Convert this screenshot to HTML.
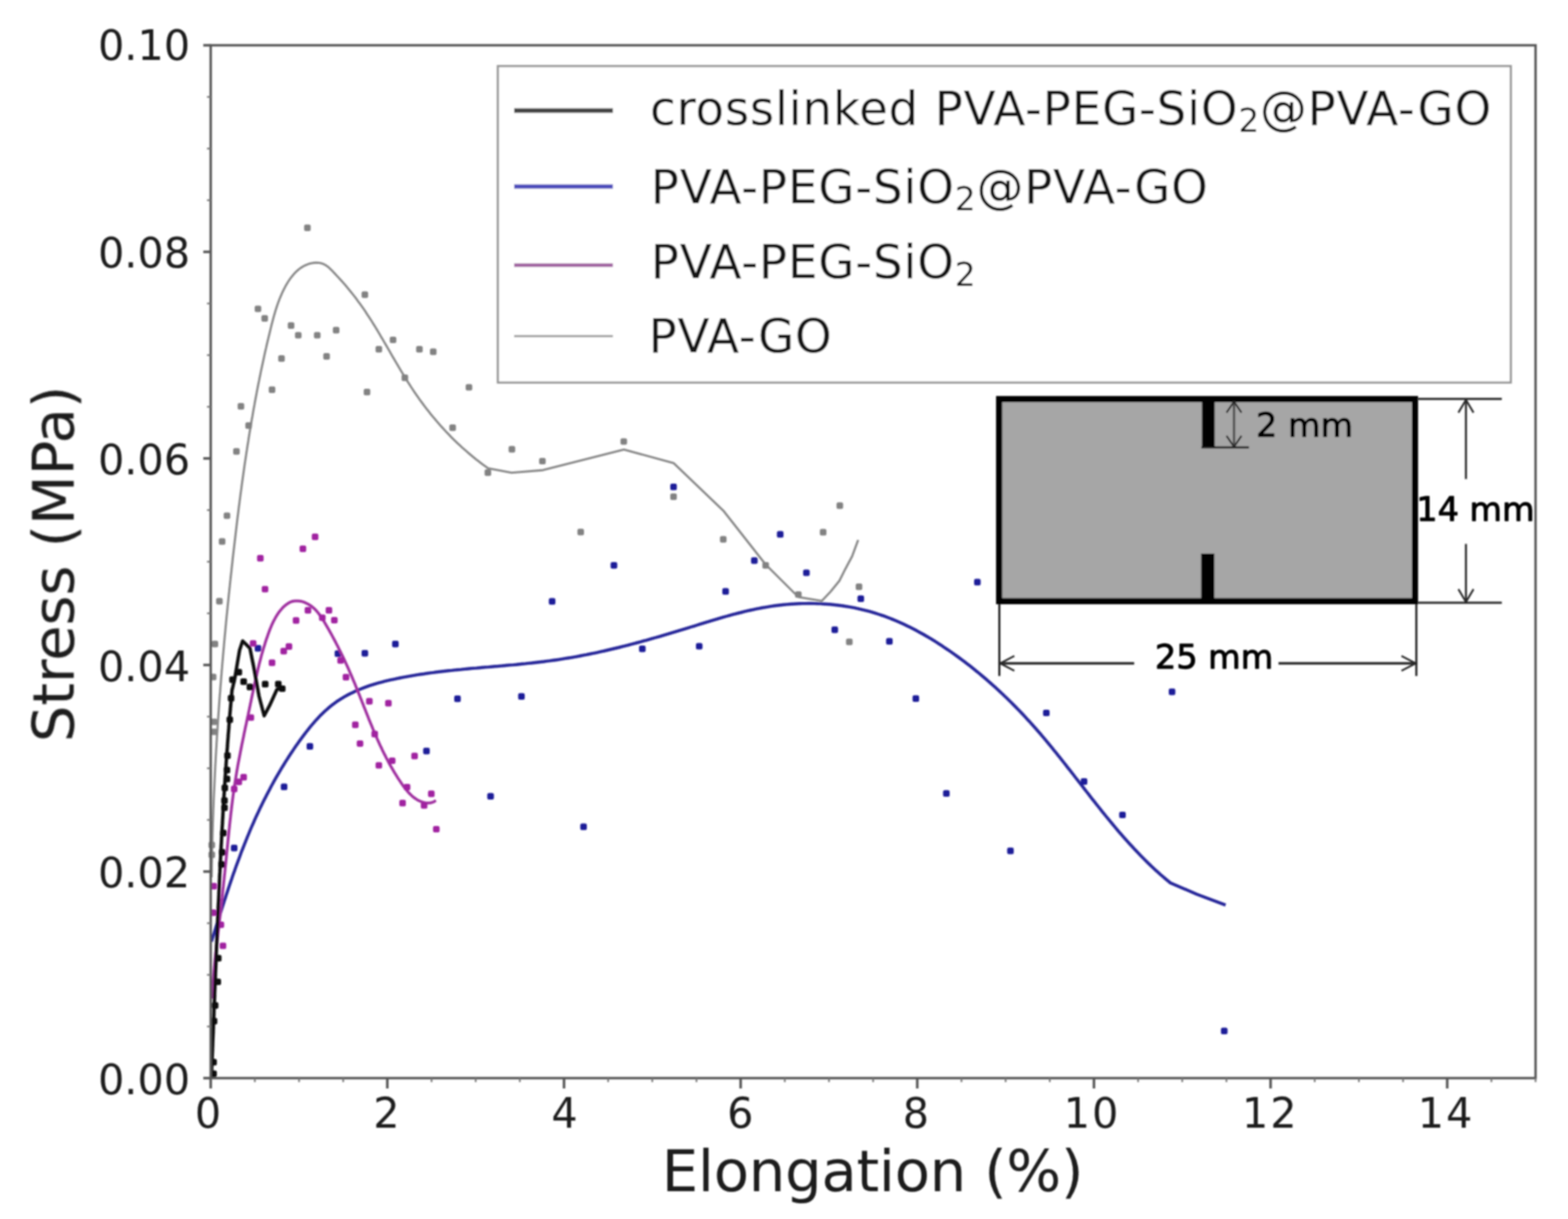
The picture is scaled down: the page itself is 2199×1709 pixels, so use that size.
<!DOCTYPE html>
<html lang="en"><head><meta charset="utf-8"><title>Stress vs Elongation</title>
<style>
html,body{margin:0;padding:0;background:#fff;}
body{width:2199px;height:1709px;overflow:hidden;}
svg{display:block;}
text{font-family:"DejaVu Sans", "Liberation Sans", sans-serif;}
</style></head><body>
<svg width="2199" height="1709" viewBox="0 0 2199 1709" role="img" aria-label="Stress versus elongation chart">
<defs><filter id="soft" x="-2%" y="-2%" width="104%" height="104%"><feGaussianBlur stdDeviation="1.0"/></filter></defs>
<rect x="0" y="0" width="2199" height="1709" fill="#ffffff"/>
<g filter="url(#soft)">
<g id="series" fill="none" stroke-linecap="butt" stroke-linejoin="round">
<g class="gray">
<path d="M296.8,1230.1 L296.8,1225.8 L296.9,1221.5 L296.9,1217.3 L297.0,1213.0 L297.1,1208.7 L297.2,1204.4 L297.3,1200.1 L297.4,1195.9 L297.4,1191.6 L297.5,1187.3 L297.7,1183.0 L297.8,1178.8 L297.9,1174.5 L298.0,1170.2 L298.1,1165.9 L298.3,1161.7 L298.4,1157.4 L298.5,1153.1 L298.7,1148.8 L298.8,1144.6 L299.0,1140.3 L299.1,1136.0 L299.3,1131.8 L299.5,1127.5 L299.6,1123.2 L299.8,1119.0 L300.0,1114.7 L300.2,1110.4 L300.4,1106.2 L300.6,1101.9 L300.8,1097.6 L301.0,1093.4 L301.2,1089.1 L301.4,1084.8 L301.6,1080.6 L301.8,1076.3 L302.0,1072.1 L302.3,1067.8 L302.5,1063.5 L302.7,1059.3 L303.0,1055.0 L303.2,1050.8 L303.5,1046.5 L303.7,1042.2 L304.0,1038.0 L304.2,1033.7 L304.5,1029.5 L304.8,1025.2 L305.1,1020.9 L305.3,1016.7 L305.6,1012.4 L305.9,1008.2 L306.2,1003.9 L306.5,999.7 L306.8,995.4 L307.1,991.2 L307.4,986.9 L307.7,982.7 L308.0,978.4 L308.3,974.1 L308.7,969.9 L309.0,965.6 L309.3,961.4 L309.7,957.1 L310.0,952.9 L310.3,948.6 L310.7,944.4 L311.0,940.1 L311.4,935.9 L311.7,931.6 L312.1,927.4 L312.5,923.1 L312.8,918.9 L313.2,914.6 L313.6,910.4 L314.0,906.1 L314.3,901.9 L314.7,897.6 L315.1,893.4 L315.5,889.1 L315.9,884.9 L316.3,880.6 L316.7,876.4 L317.1,872.1 L317.5,867.9 L317.9,863.7 L318.4,859.4 L318.8,855.2 L319.2,850.9 L319.6,846.7 L320.1,842.4 L320.5,838.2 L320.9,833.9 L321.4,829.7 L321.8,825.4 L322.3,821.2 L322.7,816.9 L323.2,812.7 L323.6,808.5 L324.1,804.2 L324.6,800.0 L325.0,795.7 L325.5,791.5 L326.0,787.2 L326.4,783.0 L326.9,778.7 L327.4,774.5 L327.9,770.2 L328.4,766.0 L328.9,761.8 L329.4,757.5 L329.9,753.3 L330.4,749.0 L330.9,744.8 L331.4,740.5 L331.9,736.3 L332.4,732.0 L332.9,727.8 L333.4,723.6 L334.0,719.3 L334.5,715.1 L335.0,710.8 L335.6,706.6 L336.1,702.4 L336.7,698.1 L337.2,693.9 L337.8,689.6 L338.4,685.4 L338.9,681.2 L339.5,676.9 L340.1,672.7 L340.7,668.5 L341.3,664.2 L341.9,660.0 L342.5,655.8 L343.1,651.5 L343.7,647.3 L344.4,643.1 L345.0,638.9 L345.6,634.6 L346.3,630.4 L346.9,626.2 L347.6,622.0 L348.3,617.8 L348.9,613.5 L349.6,609.3 L350.3,605.1 L351.0,600.9 L351.7,596.7 L352.4,592.5 L353.1,588.3 L353.9,584.1 L354.6,579.9 L355.3,575.7 L356.1,571.5 L356.9,567.3 L357.6,563.1 L358.4,558.9 L359.2,554.7 L360.0,550.5 L360.8,546.3 L361.6,542.1 L362.4,538.0 L363.3,533.8 L364.1,529.6 L365.0,525.4 L365.8,521.3 L366.7,517.1 L367.6,512.9 L368.5,508.8 L369.4,504.6 L370.3,500.5 L371.2,496.3 L372.1,492.1 L373.1,488.0 L374.0,483.9 L375.0,479.7 L376.0,475.6 L377.0,471.4 L378.0,467.3 L379.0,463.2 L380.0,459.0 L381.0,454.9 L382.1,450.8 L383.2,446.7 L384.3,442.6 L385.5,438.5 L386.7,434.4 L388.0,430.4 L389.4,426.3 L390.9,422.3 L392.4,418.3 L394.1,414.4 L395.8,410.4 L397.7,406.5 L399.7,402.6 L401.8,398.8 L404.1,395.0 L406.5,391.4 L409.1,387.9 L411.9,384.5 L414.8,381.4 L418.0,378.5 L421.3,375.9 L424.9,373.6 L428.7,371.7 L432.7,370.1 L436.9,369.0 L441.1,368.4 L445.3,368.3 L449.3,368.8 L453.2,369.9 L456.8,371.8 L460.2,374.2 L463.3,377.1 L466.4,380.2 L469.4,383.4 L472.3,386.5 L475.3,389.7 L478.2,392.9 L481.0,396.1 L483.9,399.3 L486.6,402.6 L489.4,405.9 L492.1,409.2 L494.8,412.6 L497.4,415.9 L500.0,419.3 L502.5,422.8 L505.0,426.2 L507.5,429.7 L510.0,433.2 L512.4,436.7 L514.7,440.3 L517.1,443.8 L519.4,447.4 L521.7,451.0 L523.9,454.6 L526.2,458.2 L528.4,461.9 L530.6,465.5 L532.8,469.2 L534.9,472.9 L537.1,476.5 L539.2,480.2 L541.4,483.9 L543.5,487.6 L545.7,491.3 L547.8,495.0 L549.9,498.7 L552.1,502.4 L554.2,506.1 L556.4,509.8 L558.6,513.4 L560.7,517.1 L562.9,520.8 L565.1,524.4 L567.4,528.1 L569.6,531.7 L571.9,535.3 L574.2,538.9 L576.5,542.5 L578.8,546.0 L581.2,549.6 L583.6,553.1 L586.1,556.6 L588.5,560.1 L591.0,563.5 L593.6,567.0 L596.1,570.4 L598.7,573.8 L601.4,577.1 L604.0,580.5 L606.7,583.8 L609.5,587.0 L612.2,590.3 L615.0,593.5 L617.8,596.7 L620.7,599.9 L623.6,603.0 L626.5,606.2 L629.4,609.2 L632.4,612.3 L635.4,615.3 L638.5,618.3 L641.6,621.3 L644.7,624.2 L647.8,627.1 L651.0,629.9 L654.2,632.7 L657.4,635.5 L660.7,638.3 L664.0,641.0 L667.3,643.7 L670.7,646.3 L674.1,648.9 L677.5,651.5 L681.0,654.0 L684.5,656.5 L684.5,656.4 L717.5,662.8 L761.5,659.1 L875.0,630.2 L875.0,630.2 L944.6,649.2 L1014.3,715.8 L1073.8,791.5 L1119.6,837.0 L1152.5,842.5 L1164.8,829.5 L1177.2,814.3 L1185.4,797.9 L1195.0,780.0 L1203.5,757.0" stroke="#888888" stroke-width="3.1" fill="none"/>
<rect x="426.5" y="314.8" width="9.2" height="9.2" rx="2.5" fill="#828282" stroke="none"/>
<rect x="507.1" y="408.5" width="9.2" height="9.2" rx="2.5" fill="#828282" stroke="none"/>
<rect x="357.2" y="428.4" width="9.2" height="9.2" rx="2.5" fill="#828282" stroke="none"/>
<rect x="366.6" y="441.7" width="9.2" height="9.2" rx="2.5" fill="#828282" stroke="none"/>
<rect x="403.6" y="451.8" width="9.2" height="9.2" rx="2.5" fill="#828282" stroke="none"/>
<rect x="413.7" y="465.4" width="9.2" height="9.2" rx="2.5" fill="#828282" stroke="none"/>
<rect x="440.3" y="465.4" width="9.2" height="9.2" rx="2.5" fill="#828282" stroke="none"/>
<rect x="466.8" y="458.3" width="9.2" height="9.2" rx="2.5" fill="#828282" stroke="none"/>
<rect x="546.6" y="471.9" width="9.2" height="9.2" rx="2.5" fill="#828282" stroke="none"/>
<rect x="526.7" y="485.0" width="9.2" height="9.2" rx="2.5" fill="#828282" stroke="none"/>
<rect x="583.6" y="485.0" width="9.2" height="9.2" rx="2.5" fill="#828282" stroke="none"/>
<rect x="603.0" y="488.6" width="9.2" height="9.2" rx="2.5" fill="#828282" stroke="none"/>
<rect x="453.4" y="495.1" width="9.2" height="9.2" rx="2.5" fill="#828282" stroke="none"/>
<rect x="390.2" y="498.1" width="9.2" height="9.2" rx="2.5" fill="#828282" stroke="none"/>
<rect x="563.2" y="525.1" width="9.2" height="9.2" rx="2.5" fill="#828282" stroke="none"/>
<rect x="376.9" y="541.7" width="9.2" height="9.2" rx="2.5" fill="#828282" stroke="none"/>
<rect x="510.1" y="545.0" width="9.2" height="9.2" rx="2.5" fill="#828282" stroke="none"/>
<rect x="653.1" y="538.4" width="9.2" height="9.2" rx="2.5" fill="#828282" stroke="none"/>
<rect x="333.3" y="565.1" width="9.2" height="9.2" rx="2.5" fill="#828282" stroke="none"/>
<rect x="344.1" y="592.0" width="9.2" height="9.2" rx="2.5" fill="#828282" stroke="none"/>
<rect x="630.2" y="595.1" width="9.2" height="9.2" rx="2.5" fill="#828282" stroke="none"/>
<rect x="327.0" y="628.3" width="9.2" height="9.2" rx="2.5" fill="#828282" stroke="none"/>
<rect x="713.3" y="625.3" width="9.2" height="9.2" rx="2.5" fill="#828282" stroke="none"/>
<rect x="756.1" y="641.9" width="9.2" height="9.2" rx="2.5" fill="#828282" stroke="none"/>
<rect x="679.6" y="658.0" width="9.2" height="9.2" rx="2.5" fill="#828282" stroke="none"/>
<rect x="313.7" y="718.4" width="9.2" height="9.2" rx="2.5" fill="#828282" stroke="none"/>
<rect x="870.2" y="614.4" width="9.2" height="9.2" rx="2.5" fill="#828282" stroke="none"/>
<rect x="940.0" y="691.7" width="9.2" height="9.2" rx="2.5" fill="#828282" stroke="none"/>
<rect x="1009.7" y="751.6" width="9.2" height="9.2" rx="2.5" fill="#828282" stroke="none"/>
<rect x="1069.2" y="788.1" width="9.2" height="9.2" rx="2.5" fill="#828282" stroke="none"/>
<rect x="1115.0" y="828.9" width="9.2" height="9.2" rx="2.5" fill="#828282" stroke="none"/>
<rect x="1149.8" y="741.5" width="9.2" height="9.2" rx="2.5" fill="#828282" stroke="none"/>
<rect x="1173.2" y="704.3" width="9.2" height="9.2" rx="2.5" fill="#828282" stroke="none"/>
<rect x="1200.1" y="818.1" width="9.2" height="9.2" rx="2.5" fill="#828282" stroke="none"/>
<rect x="1186.5" y="895.2" width="9.2" height="9.2" rx="2.5" fill="#828282" stroke="none"/>
<rect x="306.9" y="754.6" width="9.2" height="9.2" rx="2.5" fill="#828282" stroke="none"/>
<rect x="809.8" y="741.3" width="9.2" height="9.2" rx="2.5" fill="#828282" stroke="none"/>
<rect x="303.1" y="838.2" width="9.2" height="9.2" rx="2.5" fill="#828282" stroke="none"/>
<rect x="296.8" y="898.2" width="9.2" height="9.2" rx="2.5" fill="#828282" stroke="none"/>
<rect x="294.3" y="944.5" width="9.2" height="9.2" rx="2.5" fill="#828282" stroke="none"/>
<rect x="295.4" y="1007.4" width="9.2" height="9.2" rx="2.5" fill="#828282" stroke="none"/>
<rect x="295.4" y="1021.4" width="9.2" height="9.2" rx="2.5" fill="#828282" stroke="none"/>
<rect x="292.4" y="1180.1" width="9.2" height="9.2" rx="2.5" fill="#828282" stroke="none"/>
<rect x="292.4" y="1193.7" width="9.2" height="9.2" rx="2.5" fill="#828282" stroke="none"/>
</g>
<g class="blue">
<path d="M296.5,1320.2 L297.8,1316.1 L299.1,1311.9 L300.4,1307.8 L301.7,1303.7 L303.0,1299.5 L304.3,1295.4 L305.6,1291.3 L306.9,1287.1 L308.2,1283.0 L309.5,1278.9 L310.8,1274.8 L312.2,1270.6 L313.5,1266.5 L314.8,1262.4 L316.2,1258.3 L317.5,1254.2 L318.9,1250.1 L320.2,1246.0 L321.6,1241.9 L323.0,1237.8 L324.4,1233.7 L325.8,1229.6 L327.2,1225.5 L328.7,1221.5 L330.1,1217.4 L331.6,1213.3 L333.1,1209.3 L334.6,1205.2 L336.1,1201.2 L337.6,1197.1 L339.1,1193.1 L340.7,1189.1 L342.3,1185.0 L343.9,1181.0 L345.5,1177.0 L347.1,1173.0 L348.8,1169.0 L350.4,1165.0 L352.1,1161.0 L353.8,1157.1 L355.6,1153.1 L357.3,1149.2 L359.1,1145.2 L360.9,1141.3 L362.8,1137.4 L364.6,1133.4 L366.5,1129.5 L368.4,1125.6 L370.3,1121.8 L372.3,1117.9 L374.3,1114.0 L376.3,1110.2 L378.3,1106.4 L380.3,1102.5 L382.4,1098.7 L384.5,1094.9 L386.6,1091.2 L388.8,1087.4 L391.0,1083.6 L393.2,1079.9 L395.4,1076.2 L397.7,1072.5 L399.9,1068.8 L402.3,1065.1 L404.6,1061.5 L407.0,1057.8 L409.4,1054.2 L411.8,1050.6 L414.2,1047.0 L416.7,1043.5 L419.2,1039.9 L421.8,1036.4 L424.4,1032.9 L427.0,1029.4 L429.6,1026.0 L432.3,1022.6 L435.0,1019.2 L437.8,1015.9 L440.6,1012.6 L443.4,1009.4 L446.4,1006.2 L449.3,1003.1 L452.4,1000.1 L455.5,997.1 L458.7,994.3 L461.9,991.5 L465.3,988.8 L468.7,986.2 L472.1,983.7 L475.7,981.3 L479.3,979.1 L483.0,976.9 L486.8,974.8 L490.6,972.8 L494.5,970.9 L498.4,969.0 L502.4,967.3 L506.4,965.7 L510.4,964.1 L514.5,962.6 L518.6,961.2 L522.7,959.9 L526.8,958.6 L531.0,957.4 L535.2,956.3 L539.4,955.2 L543.6,954.2 L547.9,953.2 L552.1,952.3 L556.4,951.4 L560.6,950.5 L564.9,949.7 L569.2,948.9 L573.5,948.1 L577.7,947.3 L582.0,946.6 L586.3,945.9 L590.6,945.3 L594.9,944.7 L599.2,944.0 L603.5,943.4 L607.8,942.9 L612.1,942.3 L616.4,941.8 L620.7,941.3 L625.0,940.8 L629.3,940.3 L633.6,939.9 L637.9,939.4 L642.2,939.0 L646.5,938.6 L650.8,938.1 L655.1,937.7 L659.4,937.3 L663.8,936.9 L668.1,936.6 L672.4,936.2 L676.7,935.8 L681.0,935.4 L685.3,935.1 L689.6,934.7 L694.0,934.3 L698.3,934.0 L702.6,933.6 L706.9,933.2 L711.2,932.8 L715.5,932.4 L719.8,932.1 L724.1,931.7 L728.4,931.2 L732.7,930.8 L737.0,930.4 L741.3,929.9 L745.6,929.5 L749.9,929.0 L754.2,928.5 L758.5,928.0 L762.8,927.5 L767.0,926.9 L771.3,926.4 L775.6,925.8 L779.9,925.2 L784.1,924.6 L788.4,923.9 L792.6,923.2 L796.9,922.5 L801.2,921.8 L805.4,921.1 L809.7,920.3 L813.9,919.5 L818.1,918.7 L822.4,917.9 L826.6,917.0 L830.8,916.2 L835.1,915.3 L839.3,914.4 L843.5,913.4 L847.7,912.5 L851.9,911.5 L856.1,910.5 L860.4,909.5 L864.6,908.5 L868.8,907.5 L873.0,906.4 L877.2,905.4 L881.4,904.3 L885.6,903.2 L889.7,902.1 L893.9,901.0 L898.1,899.9 L902.3,898.7 L906.5,897.6 L910.7,896.4 L914.8,895.2 L919.0,894.0 L923.2,892.8 L927.4,891.6 L931.5,890.4 L935.7,889.2 L939.9,887.9 L944.0,886.7 L948.2,885.4 L952.3,884.2 L956.5,882.9 L960.7,881.6 L964.8,880.3 L969.0,879.0 L973.1,877.8 L977.3,876.5 L981.4,875.2 L985.6,873.9 L989.7,872.6 L993.9,871.4 L998.0,870.1 L1002.2,868.9 L1006.4,867.6 L1010.5,866.4 L1014.7,865.2 L1018.9,864.0 L1023.0,862.9 L1027.2,861.7 L1031.4,860.6 L1035.6,859.5 L1039.8,858.5 L1044.0,857.4 L1048.2,856.4 L1052.4,855.5 L1056.6,854.6 L1060.8,853.7 L1065.1,852.8 L1069.3,852.0 L1073.6,851.3 L1077.8,850.6 L1082.1,849.9 L1086.4,849.3 L1090.7,848.7 L1094.9,848.2 L1099.2,847.8 L1103.6,847.4 L1107.9,847.0 L1112.2,846.7 L1116.5,846.5 L1120.8,846.3 L1125.2,846.1 L1129.5,846.1 L1133.8,846.0 L1138.1,846.0 L1142.5,846.1 L1146.8,846.3 L1151.1,846.4 L1155.4,846.7 L1159.8,847.0 L1164.1,847.3 L1168.4,847.7 L1172.7,848.2 L1177.0,848.7 L1181.2,849.3 L1185.5,850.0 L1189.8,850.7 L1194.0,851.4 L1198.3,852.2 L1202.5,853.1 L1206.7,854.1 L1210.9,855.1 L1215.1,856.1 L1219.3,857.2 L1223.4,858.4 L1227.5,859.7 L1231.7,861.0 L1235.7,862.3 L1239.8,863.7 L1243.9,865.2 L1247.9,866.8 L1251.9,868.4 L1255.9,870.0 L1259.9,871.7 L1263.9,873.5 L1267.8,875.3 L1271.7,877.2 L1275.6,879.1 L1279.5,881.0 L1283.4,883.0 L1287.2,885.1 L1291.0,887.2 L1294.8,889.3 L1298.6,891.5 L1302.3,893.7 L1306.1,895.9 L1309.8,898.2 L1313.5,900.5 L1317.1,902.9 L1320.8,905.2 L1324.4,907.7 L1328.0,910.1 L1331.6,912.5 L1335.2,915.0 L1338.7,917.5 L1342.3,920.1 L1345.8,922.6 L1349.3,925.2 L1352.7,927.8 L1356.2,930.5 L1359.6,933.1 L1363.0,935.8 L1366.4,938.5 L1369.7,941.2 L1373.1,943.9 L1376.4,946.7 L1379.7,949.5 L1383.0,952.3 L1386.2,955.1 L1389.5,958.0 L1392.7,960.8 L1395.9,963.7 L1399.1,966.6 L1402.3,969.6 L1405.4,972.5 L1408.5,975.5 L1411.7,978.5 L1414.7,981.5 L1417.8,984.5 L1420.9,987.6 L1423.9,990.6 L1426.9,993.7 L1429.9,996.8 L1432.9,999.9 L1435.9,1003.1 L1438.8,1006.2 L1441.7,1009.4 L1444.7,1012.6 L1447.5,1015.8 L1450.4,1019.0 L1453.3,1022.3 L1456.1,1025.5 L1459.0,1028.8 L1461.8,1032.1 L1464.6,1035.4 L1467.3,1038.7 L1470.1,1042.0 L1472.9,1045.3 L1475.6,1048.7 L1478.3,1052.1 L1481.1,1055.4 L1483.8,1058.8 L1486.5,1062.2 L1489.2,1065.6 L1491.9,1069.0 L1494.6,1072.4 L1497.2,1075.8 L1499.9,1079.2 L1502.6,1082.6 L1505.3,1086.0 L1507.9,1089.5 L1510.6,1092.9 L1513.3,1096.3 L1515.9,1099.7 L1518.6,1103.2 L1521.2,1106.6 L1523.9,1110.0 L1526.6,1113.4 L1529.2,1116.9 L1531.9,1120.3 L1534.6,1123.7 L1537.3,1127.1 L1540.0,1130.5 L1542.7,1133.9 L1545.4,1137.3 L1548.1,1140.6 L1550.8,1144.0 L1553.6,1147.4 L1556.3,1150.7 L1559.1,1154.0 L1561.9,1157.4 L1564.6,1160.7 L1567.4,1164.0 L1570.2,1167.3 L1573.1,1170.5 L1575.9,1173.8 L1578.8,1177.0 L1581.7,1180.2 L1584.6,1183.4 L1587.5,1186.6 L1590.4,1189.8 L1593.4,1192.9 L1596.4,1196.1 L1599.4,1199.2 L1602.4,1202.3 L1605.4,1205.3 L1608.5,1208.4 L1611.6,1211.4 L1614.7,1214.4 L1617.9,1217.3 L1621.1,1220.3 L1624.3,1223.2 L1627.5,1226.1 L1630.8,1228.9 L1634.1,1231.7 L1637.4,1234.5 L1640.8,1237.3 L1640.7,1237.4 L1678.5,1253.8 L1718.8,1268.9" stroke="#28289a" stroke-width="4.4" fill="none"/>
<rect x="940.0" y="678.1" width="9.2" height="9.2" rx="2.5" fill="#1a1a98" stroke="none"/>
<rect x="856.4" y="788.1" width="9.2" height="9.2" rx="2.5" fill="#1a1a98" stroke="none"/>
<rect x="1089.6" y="744.6" width="9.2" height="9.2" rx="2.5" fill="#1a1a98" stroke="none"/>
<rect x="1053.3" y="781.3" width="9.2" height="9.2" rx="2.5" fill="#1a1a98" stroke="none"/>
<rect x="1126.3" y="798.4" width="9.2" height="9.2" rx="2.5" fill="#1a1a98" stroke="none"/>
<rect x="1013.0" y="824.6" width="9.2" height="9.2" rx="2.5" fill="#1a1a98" stroke="none"/>
<rect x="1202.6" y="834.7" width="9.2" height="9.2" rx="2.5" fill="#1a1a98" stroke="none"/>
<rect x="1166.1" y="878.3" width="9.2" height="9.2" rx="2.5" fill="#1a1a98" stroke="none"/>
<rect x="1242.7" y="894.6" width="9.2" height="9.2" rx="2.5" fill="#1a1a98" stroke="none"/>
<rect x="1366.1" y="811.5" width="9.2" height="9.2" rx="2.5" fill="#1a1a98" stroke="none"/>
<rect x="896.2" y="905.0" width="9.2" height="9.2" rx="2.5" fill="#1a1a98" stroke="none"/>
<rect x="976.0" y="901.4" width="9.2" height="9.2" rx="2.5" fill="#1a1a98" stroke="none"/>
<rect x="769.7" y="838.5" width="9.2" height="9.2" rx="2.5" fill="#1a1a98" stroke="none"/>
<rect x="549.9" y="898.2" width="9.2" height="9.2" rx="2.5" fill="#1a1a98" stroke="none"/>
<rect x="507.1" y="911.3" width="9.2" height="9.2" rx="2.5" fill="#1a1a98" stroke="none"/>
<rect x="469.3" y="911.8" width="9.2" height="9.2" rx="2.5" fill="#1a1a98" stroke="none"/>
<rect x="357.2" y="904.2" width="9.2" height="9.2" rx="2.5" fill="#1a1a98" stroke="none"/>
<rect x="637.0" y="975.0" width="9.2" height="9.2" rx="2.5" fill="#1a1a98" stroke="none"/>
<rect x="726.7" y="971.7" width="9.2" height="9.2" rx="2.5" fill="#1a1a98" stroke="none"/>
<rect x="430.0" y="1041.7" width="9.2" height="9.2" rx="2.5" fill="#1a1a98" stroke="none"/>
<rect x="593.5" y="1048.3" width="9.2" height="9.2" rx="2.5" fill="#1a1a98" stroke="none"/>
<rect x="393.8" y="1098.6" width="9.2" height="9.2" rx="2.5" fill="#1a1a98" stroke="none"/>
<rect x="683.4" y="1111.7" width="9.2" height="9.2" rx="2.5" fill="#1a1a98" stroke="none"/>
<rect x="323.8" y="1184.3" width="9.2" height="9.2" rx="2.5" fill="#1a1a98" stroke="none"/>
<rect x="813.8" y="1154.6" width="9.2" height="9.2" rx="2.5" fill="#1a1a98" stroke="none"/>
<rect x="1279.8" y="974.7" width="9.2" height="9.2" rx="2.5" fill="#1a1a98" stroke="none"/>
<rect x="1462.8" y="994.9" width="9.2" height="9.2" rx="2.5" fill="#1a1a98" stroke="none"/>
<rect x="1639.1" y="965.2" width="9.2" height="9.2" rx="2.5" fill="#1a1a98" stroke="none"/>
<rect x="1515.7" y="1091.1" width="9.2" height="9.2" rx="2.5" fill="#1a1a98" stroke="none"/>
<rect x="1322.6" y="1107.7" width="9.2" height="9.2" rx="2.5" fill="#1a1a98" stroke="none"/>
<rect x="1569.6" y="1137.9" width="9.2" height="9.2" rx="2.5" fill="#1a1a98" stroke="none"/>
<rect x="1412.5" y="1188.3" width="9.2" height="9.2" rx="2.5" fill="#1a1a98" stroke="none"/>
<rect x="1712.3" y="1440.7" width="9.2" height="9.2" rx="2.5" fill="#1a1a98" stroke="none"/>
</g>
<g class="mag">
<path d="M297.8,1400.0 L297.9,1396.9 L298.0,1393.7 L298.1,1390.5 L298.3,1387.4 L298.5,1384.2 L298.6,1381.1 L298.8,1377.9 L299.1,1374.8 L299.3,1371.6 L299.5,1368.4 L299.8,1365.3 L300.0,1362.1 L300.3,1359.0 L300.6,1355.9 L300.9,1352.7 L301.2,1349.6 L301.5,1346.4 L301.8,1343.3 L302.2,1340.1 L302.5,1337.0 L302.8,1333.8 L303.2,1330.7 L303.5,1327.6 L303.9,1324.4 L304.3,1321.3 L304.6,1318.1 L305.0,1315.0 L305.4,1311.9 L305.7,1308.7 L306.1,1305.6 L306.5,1302.4 L306.8,1299.3 L307.2,1296.2 L307.6,1293.0 L307.9,1289.9 L308.3,1286.7 L308.7,1283.6 L309.0,1280.5 L309.4,1277.3 L309.7,1274.2 L310.1,1271.0 L310.4,1267.9 L310.8,1264.8 L311.1,1261.6 L311.5,1258.5 L311.8,1255.3 L312.2,1252.2 L312.5,1249.1 L312.8,1245.9 L313.2,1242.8 L313.5,1239.6 L313.8,1236.5 L314.2,1233.3 L314.5,1230.2 L314.8,1227.1 L315.2,1223.9 L315.5,1220.8 L315.8,1217.6 L316.1,1214.5 L316.5,1211.3 L316.8,1208.2 L317.1,1205.0 L317.4,1201.9 L317.7,1198.7 L318.0,1195.6 L318.4,1192.5 L318.7,1189.3 L319.0,1186.2 L319.3,1183.0 L319.6,1179.9 L319.9,1176.7 L320.3,1173.6 L320.6,1170.4 L320.9,1167.3 L321.2,1164.1 L321.6,1161.0 L321.9,1157.8 L322.2,1154.7 L322.6,1151.6 L322.9,1148.4 L323.3,1145.3 L323.6,1142.1 L324.0,1139.0 L324.4,1135.8 L324.7,1132.7 L325.1,1129.6 L325.5,1126.4 L325.9,1123.3 L326.3,1120.2 L326.7,1117.0 L327.1,1113.9 L327.6,1110.8 L328.0,1107.6 L328.5,1104.5 L328.9,1101.4 L329.4,1098.3 L329.9,1095.1 L330.4,1092.0 L330.9,1088.9 L331.4,1085.8 L331.9,1082.7 L332.4,1079.6 L333.0,1076.4 L333.5,1073.3 L334.1,1070.2 L334.7,1067.1 L335.3,1064.0 L335.9,1060.9 L336.5,1057.8 L337.1,1054.7 L337.7,1051.6 L338.3,1048.5 L338.9,1045.4 L339.5,1042.3 L340.2,1039.2 L340.8,1036.1 L341.5,1033.0 L342.1,1029.9 L342.7,1026.8 L343.4,1023.7 L344.0,1020.6 L344.7,1017.5 L345.4,1014.4 L346.0,1011.3 L346.7,1008.3 L347.3,1005.2 L348.0,1002.1 L348.6,999.0 L349.3,995.9 L349.9,992.8 L350.6,989.7 L351.2,986.6 L351.9,983.5 L352.5,980.4 L353.2,977.3 L353.8,974.2 L354.5,971.1 L355.1,968.0 L355.8,964.9 L356.4,961.8 L357.1,958.7 L357.8,955.6 L358.5,952.5 L359.2,949.5 L359.9,946.4 L360.6,943.3 L361.3,940.2 L362.0,937.2 L362.8,934.1 L363.5,931.0 L364.3,928.0 L365.1,924.9 L365.9,921.9 L366.7,918.8 L367.6,915.8 L368.5,912.8 L369.3,909.7 L370.3,906.7 L371.2,903.7 L372.1,900.7 L373.1,897.7 L374.1,894.7 L375.2,891.7 L376.2,888.7 L377.3,885.8 L378.4,882.8 L379.6,879.9 L380.8,876.9 L382.1,874.1 L383.5,871.2 L385.0,868.4 L386.5,865.6 L388.2,862.8 L389.9,860.2 L391.8,857.5 L393.9,855.0 L396.0,852.5 L398.3,850.2 L400.8,848.1 L403.3,846.3 L406.0,844.7 L408.7,843.5 L411.6,842.7 L414.6,842.4 L417.6,842.4 L420.7,842.7 L423.8,843.4 L426.8,844.4 L429.7,845.7 L432.6,847.2 L435.3,848.9 L437.8,850.7 L440.2,852.8 L442.4,854.9 L444.5,857.2 L446.6,859.7 L448.5,862.2 L450.3,864.8 L452.0,867.4 L453.7,870.2 L455.4,872.9 L457.0,875.7 L458.6,878.4 L460.2,881.2 L461.8,884.0 L463.3,886.8 L464.9,889.6 L466.4,892.4 L467.9,895.2 L469.4,898.0 L470.9,900.8 L472.3,903.6 L473.8,906.4 L475.2,909.3 L476.6,912.1 L478.0,914.9 L479.4,917.8 L480.8,920.6 L482.1,923.5 L483.5,926.3 L484.8,929.2 L486.1,932.0 L487.4,934.9 L488.7,937.8 L490.0,940.7 L491.2,943.6 L492.5,946.4 L493.7,949.3 L494.9,952.2 L496.2,955.2 L497.4,958.1 L498.6,961.0 L499.8,963.9 L500.9,966.8 L502.1,969.7 L503.3,972.7 L504.5,975.6 L505.6,978.5 L506.8,981.5 L507.9,984.4 L509.1,987.3 L510.2,990.3 L511.4,993.2 L512.6,996.1 L513.7,999.1 L514.9,1002.0 L516.1,1004.9 L517.2,1007.9 L518.4,1010.8 L519.6,1013.7 L520.8,1016.6 L522.0,1019.5 L523.2,1022.5 L524.5,1025.4 L525.7,1028.3 L527.0,1031.2 L528.2,1034.1 L529.5,1037.0 L530.8,1039.8 L532.1,1042.7 L533.4,1045.6 L534.8,1048.4 L536.1,1051.3 L537.5,1054.1 L538.9,1057.0 L540.4,1059.8 L541.8,1062.6 L543.3,1065.4 L544.8,1068.2 L546.3,1071.0 L547.8,1073.8 L549.4,1076.6 L551.0,1079.3 L552.6,1082.1 L554.3,1084.8 L556.0,1087.5 L557.7,1090.3 L559.5,1093.0 L561.3,1095.6 L563.1,1098.3 L564.9,1101.0 L566.8,1103.6 L568.8,1106.1 L570.8,1108.6 L572.9,1111.0 L575.1,1113.3 L577.3,1115.4 L579.6,1117.4 L582.1,1119.3 L584.6,1120.9 L587.3,1122.4 L590.1,1123.7 L593.0,1124.7 L596.0,1125.4 L599.1,1125.8 L602.2,1125.8 L605.3,1125.2 L608.4,1124.1 L611.3,1122.2" stroke="#a030a0" stroke-width="4.0" fill="none"/>
<rect x="437.3" y="748.1" width="9.2" height="9.2" rx="2.5" fill="#a022a0" stroke="none"/>
<rect x="420.2" y="764.7" width="9.2" height="9.2" rx="2.5" fill="#a022a0" stroke="none"/>
<rect x="360.5" y="778.1" width="9.2" height="9.2" rx="2.5" fill="#a022a0" stroke="none"/>
<rect x="367.1" y="821.4" width="9.2" height="9.2" rx="2.5" fill="#a022a0" stroke="none"/>
<rect x="427.3" y="851.1" width="9.2" height="9.2" rx="2.5" fill="#a022a0" stroke="none"/>
<rect x="456.7" y="851.1" width="9.2" height="9.2" rx="2.5" fill="#a022a0" stroke="none"/>
<rect x="447.4" y="861.4" width="9.2" height="9.2" rx="2.5" fill="#a022a0" stroke="none"/>
<rect x="464.3" y="864.9" width="9.2" height="9.2" rx="2.5" fill="#a022a0" stroke="none"/>
<rect x="410.6" y="865.2" width="9.2" height="9.2" rx="2.5" fill="#a022a0" stroke="none"/>
<rect x="350.4" y="897.4" width="9.2" height="9.2" rx="2.5" fill="#a022a0" stroke="none"/>
<rect x="400.6" y="901.7" width="9.2" height="9.2" rx="2.5" fill="#a022a0" stroke="none"/>
<rect x="393.3" y="908.2" width="9.2" height="9.2" rx="2.5" fill="#a022a0" stroke="none"/>
<rect x="376.9" y="924.6" width="9.2" height="9.2" rx="2.5" fill="#a022a0" stroke="none"/>
<rect x="473.1" y="921.3" width="9.2" height="9.2" rx="2.5" fill="#a022a0" stroke="none"/>
<rect x="480.6" y="944.8" width="9.2" height="9.2" rx="2.5" fill="#a022a0" stroke="none"/>
<rect x="347.2" y="1001.4" width="9.2" height="9.2" rx="2.5" fill="#a022a0" stroke="none"/>
<rect x="513.4" y="978.5" width="9.2" height="9.2" rx="2.5" fill="#a022a0" stroke="none"/>
<rect x="540.1" y="981.3" width="9.2" height="9.2" rx="2.5" fill="#a022a0" stroke="none"/>
<rect x="493.7" y="1011.5" width="9.2" height="9.2" rx="2.5" fill="#a022a0" stroke="none"/>
<rect x="520.9" y="1024.6" width="9.2" height="9.2" rx="2.5" fill="#a022a0" stroke="none"/>
<rect x="500.3" y="1037.9" width="9.2" height="9.2" rx="2.5" fill="#a022a0" stroke="none"/>
<rect x="545.4" y="1061.9" width="9.2" height="9.2" rx="2.5" fill="#a022a0" stroke="none"/>
<rect x="576.8" y="1055.3" width="9.2" height="9.2" rx="2.5" fill="#a022a0" stroke="none"/>
<rect x="526.7" y="1068.4" width="9.2" height="9.2" rx="2.5" fill="#a022a0" stroke="none"/>
<rect x="337.1" y="1085.0" width="9.2" height="9.2" rx="2.5" fill="#a022a0" stroke="none"/>
<rect x="330.3" y="1091.6" width="9.2" height="9.2" rx="2.5" fill="#a022a0" stroke="none"/>
<rect x="323.8" y="1101.6" width="9.2" height="9.2" rx="2.5" fill="#a022a0" stroke="none"/>
<rect x="566.3" y="1098.9" width="9.2" height="9.2" rx="2.5" fill="#a022a0" stroke="none"/>
<rect x="600.3" y="1108.2" width="9.2" height="9.2" rx="2.5" fill="#a022a0" stroke="none"/>
<rect x="560.0" y="1121.3" width="9.2" height="9.2" rx="2.5" fill="#a022a0" stroke="none"/>
<rect x="590.2" y="1124.6" width="9.2" height="9.2" rx="2.5" fill="#a022a0" stroke="none"/>
<rect x="607.3" y="1157.9" width="9.2" height="9.2" rx="2.5" fill="#a022a0" stroke="none"/>
<rect x="295.0" y="1237.7" width="9.2" height="9.2" rx="2.5" fill="#a022a0" stroke="none"/>
<rect x="294.2" y="1275.0" width="9.2" height="9.2" rx="2.5" fill="#a022a0" stroke="none"/>
<rect x="305.2" y="1291.9" width="9.2" height="9.2" rx="2.5" fill="#a022a0" stroke="none"/>
<rect x="308.1" y="1321.4" width="9.2" height="9.2" rx="2.5" fill="#a022a0" stroke="none"/>
</g>
<g class="black">
<path d="M296.4,1511.0 L296.6,1506.4 L296.8,1501.8 L296.9,1497.2 L297.1,1492.7 L297.3,1488.1 L297.5,1483.5 L297.7,1478.9 L297.9,1474.3 L298.1,1469.8 L298.3,1465.2 L298.4,1460.6 L298.6,1456.0 L298.8,1451.4 L299.0,1446.9 L299.2,1442.3 L299.3,1437.7 L299.5,1433.1 L299.7,1428.5 L299.9,1423.9 L300.1,1419.4 L300.2,1414.8 L300.4,1410.2 L300.6,1405.6 L300.8,1401.0 L301.0,1396.5 L301.1,1391.9 L301.3,1387.3 L301.5,1382.7 L301.7,1378.1 L301.9,1373.5 L302.1,1369.0 L302.2,1364.4 L302.4,1359.8 L302.6,1355.2 L302.8,1350.6 L303.0,1346.1 L303.2,1341.5 L303.3,1336.9 L303.5,1332.3 L303.7,1327.7 L303.9,1323.1 L304.1,1318.6 L304.3,1314.0 L304.5,1309.4 L304.7,1304.8 L304.9,1300.2 L305.1,1295.7 L305.2,1291.1 L305.4,1286.5 L305.6,1281.9 L305.8,1277.3 L306.0,1272.7 L306.2,1268.2 L306.5,1263.6 L306.7,1259.0 L306.9,1254.4 L307.1,1249.8 L307.3,1245.3 L307.5,1240.7 L307.7,1236.1 L307.9,1231.5 L308.1,1226.9 L308.4,1222.4 L308.6,1217.8 L308.8,1213.2 L309.0,1208.6 L309.3,1204.0 L309.5,1199.5 L309.7,1194.9 L310.0,1190.3 L310.2,1185.7 L310.5,1181.1 L310.7,1176.6 L310.9,1172.0 L311.2,1167.4 L311.4,1162.8 L311.7,1158.2 L312.0,1153.7 L312.2,1149.1 L312.5,1144.5 L312.7,1139.9 L313.0,1135.4 L313.3,1130.8 L313.6,1126.2 L313.8,1121.6 L314.1,1117.1 L314.4,1112.5 L314.7,1107.9 L315.0,1103.3 L315.3,1098.7 L315.6,1094.2 L315.9,1089.6 L316.2,1085.0 L316.5,1080.4 L316.8,1075.9 L317.1,1071.3 L317.4,1066.7 L317.8,1062.2 L318.1,1057.6 L318.4,1053.0 L318.8,1048.4 L319.1,1043.9 L319.4,1039.3 L319.8,1034.7 L320.1,1030.1 L320.5,1025.6 L320.9,1021.0 L321.2,1016.4 L321.6,1011.9 L322.0,1007.3 L322.3,1002.7 L322.7,998.1 L323.1,993.6 L323.5,989.0 L323.9,984.4 L324.3,979.9 L324.7,975.3 L325.1,970.7 L325.5,966.2 L325.8,966.2 L329.4,950.5 L332.3,933.2 L336.0,911.5 L340.3,898.6 L350.5,908.8 L355.8,935.0 L363.3,976.0 L370.5,1003.5 L378.2,988.9 L388.3,966.8 L394.6,964.2" stroke="#101010" stroke-width="4.8" fill="none"/>
<rect x="330.3" y="937.7" width="9.2" height="9.2" rx="2.5" fill="#0c0c0c" stroke="none"/>
<rect x="321.5" y="948.3" width="9.2" height="9.2" rx="2.5" fill="#0c0c0c" stroke="none"/>
<rect x="337.1" y="951.1" width="9.2" height="9.2" rx="2.5" fill="#0c0c0c" stroke="none"/>
<rect x="345.9" y="958.6" width="9.2" height="9.2" rx="2.5" fill="#0c0c0c" stroke="none"/>
<rect x="367.3" y="954.6" width="9.2" height="9.2" rx="2.5" fill="#0c0c0c" stroke="none"/>
<rect x="385.7" y="954.6" width="9.2" height="9.2" rx="2.5" fill="#0c0c0c" stroke="none"/>
<rect x="391.2" y="960.9" width="9.2" height="9.2" rx="2.5" fill="#0c0c0c" stroke="none"/>
<rect x="319.5" y="974.2" width="9.2" height="9.2" rx="2.5" fill="#0c0c0c" stroke="none"/>
<rect x="317.7" y="1004.4" width="9.2" height="9.2" rx="2.5" fill="#0c0c0c" stroke="none"/>
<rect x="314.4" y="1054.8" width="9.2" height="9.2" rx="2.5" fill="#0c0c0c" stroke="none"/>
<rect x="313.7" y="1075.0" width="9.2" height="9.2" rx="2.5" fill="#0c0c0c" stroke="none"/>
<rect x="313.7" y="1087.5" width="9.2" height="9.2" rx="2.5" fill="#0c0c0c" stroke="none"/>
<rect x="310.7" y="1100.1" width="9.2" height="9.2" rx="2.5" fill="#0c0c0c" stroke="none"/>
<rect x="310.2" y="1117.8" width="9.2" height="9.2" rx="2.5" fill="#0c0c0c" stroke="none"/>
<rect x="310.2" y="1127.8" width="9.2" height="9.2" rx="2.5" fill="#0c0c0c" stroke="none"/>
<rect x="308.6" y="1163.2" width="9.2" height="9.2" rx="2.5" fill="#0c0c0c" stroke="none"/>
<rect x="306.9" y="1190.3" width="9.2" height="9.2" rx="2.5" fill="#0c0c0c" stroke="none"/>
<rect x="306.1" y="1207.2" width="9.2" height="9.2" rx="2.5" fill="#0c0c0c" stroke="none"/>
<rect x="301.5" y="1338.7" width="9.2" height="9.2" rx="2.5" fill="#0c0c0c" stroke="none"/>
<rect x="300.8" y="1371.9" width="9.2" height="9.2" rx="2.5" fill="#0c0c0c" stroke="none"/>
<rect x="297.1" y="1405.0" width="9.2" height="9.2" rx="2.5" fill="#0c0c0c" stroke="none"/>
<rect x="295.6" y="1427.1" width="9.2" height="9.2" rx="2.5" fill="#0c0c0c" stroke="none"/>
<rect x="294.9" y="1484.6" width="9.2" height="9.2" rx="2.5" fill="#0c0c0c" stroke="none"/>
<rect x="294.9" y="1500.8" width="9.2" height="9.2" rx="2.5" fill="#0c0c0c" stroke="none"/>
</g>
</g>
<g id="axes" stroke="#565656" fill="none">
<rect x="295.5" y="63.5" width="1858.0" height="1448.0" stroke-width="3.4"/>
<line x1="295.5" y1="1511.5" x2="295.5" y2="1526.0" stroke-width="3.6"/>
<line x1="357.4" y1="1511.5" x2="357.4" y2="1517.1" stroke-width="2.4" stroke="#777"/>
<line x1="419.4" y1="1511.5" x2="419.4" y2="1517.1" stroke-width="2.4" stroke="#777"/>
<line x1="481.3" y1="1511.5" x2="481.3" y2="1517.1" stroke-width="2.4" stroke="#777"/>
<line x1="543.2" y1="1511.5" x2="543.2" y2="1526.0" stroke-width="3.6"/>
<line x1="605.2" y1="1511.5" x2="605.2" y2="1517.1" stroke-width="2.4" stroke="#777"/>
<line x1="667.1" y1="1511.5" x2="667.1" y2="1517.1" stroke-width="2.4" stroke="#777"/>
<line x1="729.0" y1="1511.5" x2="729.0" y2="1517.1" stroke-width="2.4" stroke="#777"/>
<line x1="791.0" y1="1511.5" x2="791.0" y2="1526.0" stroke-width="3.6"/>
<line x1="852.9" y1="1511.5" x2="852.9" y2="1517.1" stroke-width="2.4" stroke="#777"/>
<line x1="914.8" y1="1511.5" x2="914.8" y2="1517.1" stroke-width="2.4" stroke="#777"/>
<line x1="976.8" y1="1511.5" x2="976.8" y2="1517.1" stroke-width="2.4" stroke="#777"/>
<line x1="1038.7" y1="1511.5" x2="1038.7" y2="1526.0" stroke-width="3.6"/>
<line x1="1100.6" y1="1511.5" x2="1100.6" y2="1517.1" stroke-width="2.4" stroke="#777"/>
<line x1="1162.6" y1="1511.5" x2="1162.6" y2="1517.1" stroke-width="2.4" stroke="#777"/>
<line x1="1224.5" y1="1511.5" x2="1224.5" y2="1517.1" stroke-width="2.4" stroke="#777"/>
<line x1="1286.4" y1="1511.5" x2="1286.4" y2="1526.0" stroke-width="3.6"/>
<line x1="1348.4" y1="1511.5" x2="1348.4" y2="1517.1" stroke-width="2.4" stroke="#777"/>
<line x1="1410.3" y1="1511.5" x2="1410.3" y2="1517.1" stroke-width="2.4" stroke="#777"/>
<line x1="1472.2" y1="1511.5" x2="1472.2" y2="1517.1" stroke-width="2.4" stroke="#777"/>
<line x1="1534.2" y1="1511.5" x2="1534.2" y2="1526.0" stroke-width="3.6"/>
<line x1="1596.1" y1="1511.5" x2="1596.1" y2="1517.1" stroke-width="2.4" stroke="#777"/>
<line x1="1658.0" y1="1511.5" x2="1658.0" y2="1517.1" stroke-width="2.4" stroke="#777"/>
<line x1="1720.0" y1="1511.5" x2="1720.0" y2="1517.1" stroke-width="2.4" stroke="#777"/>
<line x1="1781.9" y1="1511.5" x2="1781.9" y2="1526.0" stroke-width="3.6"/>
<line x1="1843.8" y1="1511.5" x2="1843.8" y2="1517.1" stroke-width="2.4" stroke="#777"/>
<line x1="1905.8" y1="1511.5" x2="1905.8" y2="1517.1" stroke-width="2.4" stroke="#777"/>
<line x1="1967.7" y1="1511.5" x2="1967.7" y2="1517.1" stroke-width="2.4" stroke="#777"/>
<line x1="2029.6" y1="1511.5" x2="2029.6" y2="1526.0" stroke-width="3.6"/>
<line x1="2091.6" y1="1511.5" x2="2091.6" y2="1517.1" stroke-width="2.4" stroke="#777"/>
<line x1="2153.5" y1="1511.5" x2="2153.5" y2="1517.1" stroke-width="2.4" stroke="#777"/>
<line x1="295.5" y1="1511.5" x2="285.1" y2="1511.5" stroke-width="3.6"/>
<line x1="295.5" y1="1439.1" x2="290.3" y2="1439.1" stroke-width="2.4" stroke="#777"/>
<line x1="295.5" y1="1366.7" x2="290.3" y2="1366.7" stroke-width="2.4" stroke="#777"/>
<line x1="295.5" y1="1294.3" x2="290.3" y2="1294.3" stroke-width="2.4" stroke="#777"/>
<line x1="295.5" y1="1221.9" x2="285.1" y2="1221.9" stroke-width="3.6"/>
<line x1="295.5" y1="1149.5" x2="290.3" y2="1149.5" stroke-width="2.4" stroke="#777"/>
<line x1="295.5" y1="1077.1" x2="290.3" y2="1077.1" stroke-width="2.4" stroke="#777"/>
<line x1="295.5" y1="1004.7" x2="290.3" y2="1004.7" stroke-width="2.4" stroke="#777"/>
<line x1="295.5" y1="932.3" x2="285.1" y2="932.3" stroke-width="3.6"/>
<line x1="295.5" y1="859.9" x2="290.3" y2="859.9" stroke-width="2.4" stroke="#777"/>
<line x1="295.5" y1="787.5" x2="290.3" y2="787.5" stroke-width="2.4" stroke="#777"/>
<line x1="295.5" y1="715.1" x2="290.3" y2="715.1" stroke-width="2.4" stroke="#777"/>
<line x1="295.5" y1="642.7" x2="285.1" y2="642.7" stroke-width="3.6"/>
<line x1="295.5" y1="570.3" x2="290.3" y2="570.3" stroke-width="2.4" stroke="#777"/>
<line x1="295.5" y1="497.9" x2="290.3" y2="497.9" stroke-width="2.4" stroke="#777"/>
<line x1="295.5" y1="425.5" x2="290.3" y2="425.5" stroke-width="2.4" stroke="#777"/>
<line x1="295.5" y1="353.1" x2="285.1" y2="353.1" stroke-width="3.6"/>
<line x1="295.5" y1="280.7" x2="290.3" y2="280.7" stroke-width="2.4" stroke="#777"/>
<line x1="295.5" y1="208.3" x2="290.3" y2="208.3" stroke-width="2.4" stroke="#777"/>
<line x1="295.5" y1="135.9" x2="290.3" y2="135.9" stroke-width="2.4" stroke="#777"/>
<line x1="295.5" y1="63.5" x2="285.1" y2="63.5" stroke-width="3.6"/>
</g>
<g id="ticklabels" fill="#1c1c1c" font-size="58.0" >
<text x="291.6" y="1581.0" text-anchor="middle">0</text>
<text x="542.0" y="1581.0" text-anchor="middle">2</text>
<text x="791.6" y="1581.0" text-anchor="middle">4</text>
<text x="1038.3" y="1581.0" text-anchor="middle">6</text>
<text x="1284.4" y="1581.0" text-anchor="middle">8</text>
<text x="1491.7" y="1581.0" letter-spacing="3.0">10</text>
<text x="1741.7" y="1581.0" letter-spacing="3.0">12</text>
<text x="1988.2" y="1581.0" letter-spacing="3.0">14</text>
<text x="266.6" y="1533.8" text-anchor="end">0.00</text>
<text x="266.6" y="1244.2" text-anchor="end">0.02</text>
<text x="266.6" y="954.6" text-anchor="end">0.04</text>
<text x="266.6" y="665.0" text-anchor="end">0.06</text>
<text x="266.6" y="375.4" text-anchor="end">0.08</text>
<text x="266.6" y="83.8" text-anchor="end">0.10</text>
</g>
<text id="xlabel" x="928.0" y="1670.2" font-size="81" fill="#1c1c1c" letter-spacing="-0.4">Elongation (%)</text>
<text id="ylabel" transform="translate(103.4,1040.5) rotate(-90)" font-size="81" fill="#1c1c1c" letter-spacing="-0.25">Stress (MPa)</text>
<g id="legend">
<rect x="698.2" y="92.7" width="1420.6" height="443.6" fill="#ffffff" stroke="#959595" stroke-width="3"/>
<line x1="721.0" y1="154.9" x2="859.5" y2="154.9" stroke="#454545" stroke-width="6.5"/>
<line x1="721.0" y1="261.4" x2="859.5" y2="261.4" stroke="#4d4dbb" stroke-width="6"/>
<line x1="721.0" y1="371.8" x2="859.5" y2="371.8" stroke="#a062a0" stroke-width="5"/>
<line x1="721.0" y1="471.2" x2="859.5" y2="471.2" stroke="#9a9a9a" stroke-width="3"/>
<g fill="#151515" font-size="65.8">
<text transform="translate(911.5,174.5) scale(1,0.99)" letter-spacing="0.95">crosslinked PVA-PEG-SiO<tspan dy="11" font-size="46">2</tspan><tspan dy="-11">@PVA-GO</tspan></text>
<text transform="translate(912.5,284.6) scale(1,0.99)" letter-spacing="1.0">PVA-PEG-SiO<tspan dy="11" font-size="46">2</tspan><tspan dy="-11">@PVA-GO</tspan></text>
<text transform="translate(912.5,390.2) scale(1,0.99)" letter-spacing="1.0">PVA-PEG-SiO<tspan dy="11" font-size="46">2</tspan></text>
<text transform="translate(909.5,494.4) scale(1,0.99)" letter-spacing="0.8">PVA-GO</text>
</g></g>
<g id="inset">
<rect x="1401.2" y="559.5" width="583.2" height="283.3" fill="#a6a6a6" stroke="#000000" stroke-width="8.6"/>
<rect x="1685.6" y="559" width="17.9" height="68.6" fill="#000000"/>
<rect x="1684.5" y="776" width="18.6" height="68" fill="#000000"/>
<line x1="1684.8" y1="627.2" x2="1751.5" y2="627.2" stroke="#1a1a1a" stroke-width="3"/>
<line x1="1730.6" y1="563" x2="1730.6" y2="626.5" stroke="#505050" stroke-width="3.4"/>
<path d="M1741.1,578.5 L1730.6,563.0 L1720.1,578.5" fill="none" stroke="#262626" stroke-width="2.6"/>
<path d="M1720.1,611.0 L1730.6,626.5 L1741.1,611.0" fill="none" stroke="#262626" stroke-width="2.6"/>
<text x="1761.6" y="612.3" font-size="46.9" fill="#000000" stroke="#000000" stroke-width="1.3" stroke-linejoin="round">2 mm</text>
<line x1="1988.7" y1="559.3" x2="2106.2" y2="559.3" stroke="#262626" stroke-width="3"/>
<line x1="1988.7" y1="845.1" x2="2106.2" y2="845.1" stroke="#262626" stroke-width="3"/>
<line x1="2055.9" y1="560" x2="2055.9" y2="671.6" stroke="#262626" stroke-width="2.8"/>
<line x1="2055.9" y1="762.6" x2="2055.9" y2="844.5" stroke="#262626" stroke-width="2.8"/>
<path d="M2066.5,578.5 L2055.9,560.5 L2045.3,578.5" fill="none" stroke="#262626" stroke-width="2.6"/>
<path d="M2045.3,826.0 L2055.9,844.0 L2066.5,826.0" fill="none" stroke="#262626" stroke-width="2.6"/>
<text x="1986.3" y="729.5" font-size="46.9" fill="#000000" stroke="#000000" stroke-width="1.3" stroke-linejoin="round">14 mm</text>
<line x1="1401.5" y1="847" x2="1401.5" y2="947.7" stroke="#262626" stroke-width="3"/>
<line x1="1986.3" y1="847" x2="1986.3" y2="947.7" stroke="#262626" stroke-width="3"/>
<line x1="1402" y1="930" x2="1590.6" y2="930" stroke="#262626" stroke-width="3.4"/>
<line x1="1793" y1="930" x2="1985.7" y2="930" stroke="#262626" stroke-width="3.4"/>
<path d="M1422.5,919.6 L1402.5,930.0 L1422.5,940.4" fill="none" stroke="#262626" stroke-width="2.6"/>
<path d="M1965.5,940.4 L1985.5,930.0 L1965.5,919.6" fill="none" stroke="#262626" stroke-width="2.6"/>
<text x="1619.8" y="937" font-size="46.9" fill="#000000" stroke="#000000" stroke-width="1.3" stroke-linejoin="round">25 mm</text>
</g>
</g>
</svg>
</body></html>
